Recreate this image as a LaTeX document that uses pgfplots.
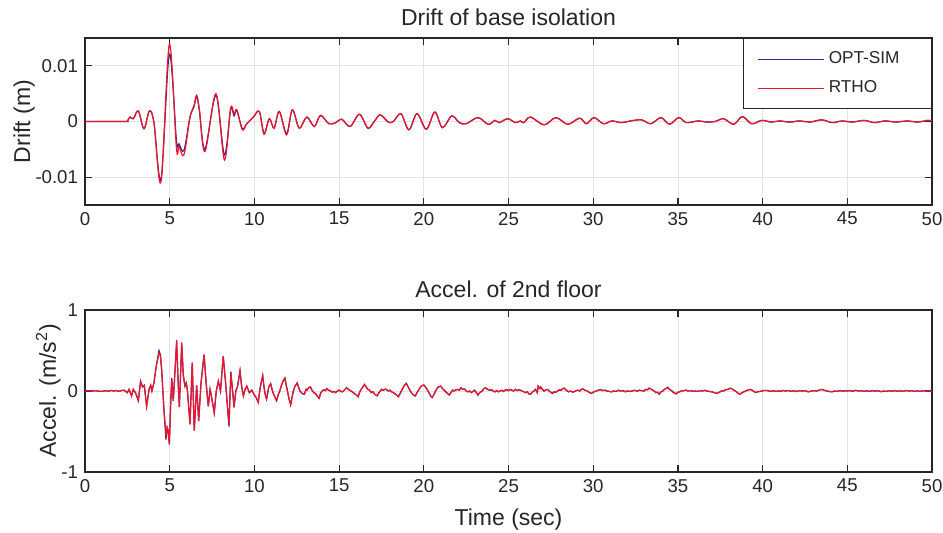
\documentclass[border=0pt]{standalone}
\usepackage{pgfplots}
\pgfplotsset{compat=1.18}
\usepackage{pgfplotstable}
\usepackage{fontspec}
\setmainfont{Liberation Sans}

\definecolor{simblue}{RGB}{40,40,150}
\definecolor{rthored}{RGB}{240,20,40}
\definecolor{axcol}{RGB}{38,38,38}

% drift of base isolation (m)
\pgfplotstableread{
t sim rtho
0 0 0
2.30 0 0
2.50 0.0001 0.0001
2.66 0.0008 0.0008
2.85 0.0005 0.0005
3.15 0.0019 0.0019
3.48 -0.0013 -0.0013
3.80 0.0019 0.0019
4.07 -0.0002 -0.0002
4.49 -0.0103 -0.0108
4.98 0.0121 0.0139
5.40 -0.0035 -0.0048
5.55 -0.0040 -0.0045
5.84 -0.0052 -0.0060
6.20 0.0008 0.0008
6.43 0.0026 0.0028
6.59 0.0045 0.0047
6.75 0.0020 0.0022
7.08 -0.0050 -0.0054
7.73 0.0047 0.0050
8.23 -0.0060 -0.0069
8.60 0.0022 0.0024
8.80 0.0010 0.0013
8.96 0.0020 0.0021
9.29 -0.0013 -0.0015
9.55 -0.0004 -0.0004
9.94 0.0008 0.0008
10.29 0.0018 0.0018
10.57 -0.0021 -0.0023
10.88 0.0005 0.0005
11.16 -0.0012 -0.0012
11.47 0.0018 0.0018
11.90 -0.0022 -0.0024
12.24 0.0021 0.0021
12.65 -0.0012 -0.0012
13.09 0.0008 0.0008
13.54 -0.0009 -0.0009
13.90 0.0011 0.0011
14.40 -0.0004 -0.0004
14.80 -0.0002 -0.0002
15.16 0.0004 0.0004
15.65 -0.0009 -0.0009
16.20 0.0013 0.0013
16.70 -0.0012 -0.0012
17.05 -0.0001 -0.0001
17.42 0.0012 0.0012
17.90 -0.0001 -0.0001
18.20 0.0000 0.0000
18.65 0.0014 0.0014
19.12 -0.0015 -0.0015
19.60 0.0014 0.0014
20.15 -0.0014 -0.0014
20.65 0.0017 0.0017
21.10 -0.0011 -0.0011
21.65 0.0010 0.0010
22.10 -0.0002 -0.0002
22.50 -0.0004 -0.0004
23.20 0.0007 0.0007
23.80 -0.0005 -0.0005
24.20 0.0002 0.0002
24.45 -0.0002 -0.0002
24.95 0.0005 0.0005
25.40 -0.0002 -0.0002
25.70 0.0001 0.0001
25.90 -0.0002 -0.0002
26.30 0.0008 0.0008
27.10 -0.0006 -0.0006
27.80 0.0007 0.0007
28.50 -0.0005 -0.0005
29.20 0.0006 0.0006
29.60 -0.0004 -0.0004
30.05 0.0007 0.0007
30.60 -0.0004 -0.0004
31.10 0.0001 0.0001
31.65 -0.0002 -0.0002
32.20 0.0001 0.0001
32.85 0.0003 0.0003
33.40 -0.0004 -0.0004
34.00 0.0007 0.0007
34.50 -0.0005 -0.0005
35.05 0.0007 0.0007
35.50 -0.0002 -0.0002
36.20 0.0001 0.0001
36.70 -0.0001 -0.0001
37.20 0.0000 0.0000
37.70 0.0005 0.0005
38.30 -0.0005 -0.0005
38.80 0.0009 0.0009
39.35 -0.0004 -0.0004
39.95 0.0002 0.0002
40.50 -0.0001 -0.0001
41.00 0.0001 0.0001
41.60 -0.0001 -0.0001
42.20 0.0001 0.0001
42.80 -0.0001 -0.0001
43.50 0.0003 0.0003
44.10 -0.0002 -0.0002
44.70 0.0001 0.0001
45.30 -0.0001 -0.0001
46.00 0.0002 0.0002
46.60 -0.0002 -0.0002
47.20 0.0001 0.0001
47.90 -0.0001 -0.0001
48.50 0.0001 0.0001
49.20 -0.0001 -0.0001
49.70 0.0002 0.0002
50.00 0.0001 0.0001
}\drifttable

% acceleration of 2nd floor (m/s^2)
\pgfplotstableread{
t sim rtho
0 0 0
0.2 0.004 0.004
0.4 -0.003 -0.003
0.6 0.005 0.005
0.8 -0.002 -0.002
1.0 -0.005 -0.005
1.2 0.004 0.004
1.4 -0.003 -0.003
1.5 0.008 0.008
1.7 0.0 0.0
1.85 0.006 0.006
2.0 -0.004 -0.004
2.15 0.006 0.006
2.3 0.01 0.01
2.4 -0.005 -0.005
2.5 -0.02 -0.02
2.6 0.02 0.02
2.75 -0.06 -0.06
2.85 0.02 0.02
3.0 -0.03 -0.03
3.15 -0.12 -0.12
3.28 0.12 0.12
3.4 0.05 0.05
3.5 0.07 0.07
3.64 -0.19 -0.19
3.78 0.02 0.02
3.88 0.07 0.07
3.95 0.0 0.0
4.07 0.10 0.10
4.2 0.30 0.30
4.37 0.50 0.47
4.45 0.45 0.44
4.53 0.25 0.25
4.65 -0.2 -0.2
4.78 -0.60 -0.55
4.85 -0.45 -0.45
4.90 -0.48 -0.48
4.98 -0.66 -0.65
5.05 -0.2 -0.2
5.12 0.16 0.14
5.21 -0.12 -0.12
5.30 0.2 0.2
5.41 0.60 0.63
5.50 0.1 0.1
5.57 -0.20 -0.20
5.71 0.58 0.60
5.80 0.2 0.2
5.90 0.06 0.06
5.98 0.10 0.10
6.05 0.0 0.0
6.20 -0.41 -0.41
6.33 0.35 0.35
6.45 -0.49 -0.49
6.59 0.07 0.07
6.71 -0.37 -0.37
6.85 0.1 0.1
7.03 0.45 0.45
7.15 0.1 0.1
7.28 -0.19 -0.19
7.38 0.02 0.02
7.45 -0.05 -0.05
7.63 -0.27 -0.27
7.75 0.0 0.0
7.87 0.12 0.12
8.0 0.0 0.0
8.16 0.43 0.43
8.3 0.1 0.1
8.50 -0.44 -0.42
8.61 0.24 0.22
8.80 -0.20 -0.20
8.90 0.0 0.0
9.0 0.05 0.05
9.15 0.25 0.25
9.25 0.05 0.05
9.35 -0.06 -0.06
9.45 0.02 0.02
9.55 0.06 0.06
9.7 -0.02 -0.02
9.85 0.01 0.01
10.0 -0.05 -0.05
10.1 -0.08 -0.08
10.23 -0.14 -0.14
10.3 -0.02 -0.02
10.35 0.05 0.05
10.42 0.12 0.12
10.49 0.19 0.19
10.55 0.08 0.08
10.60 0.0 0.0
10.66 -0.06 -0.06
10.72 -0.10 -0.10
10.78 -0.03 -0.03
10.85 0.05 0.05
10.96 0.09 0.09
11.03 0.03 0.03
11.1 -0.02 -0.02
11.2 -0.07 -0.07
11.31 -0.12 -0.12
11.4 -0.05 -0.05
11.5 0.0 0.0
11.58 0.06 0.06
11.65 0.10 0.10
11.72 0.13 0.13
11.80 0.16 0.16
11.88 0.07 0.07
11.95 0.0 0.0
12.05 -0.10 -0.10
12.14 -0.17 -0.17
12.22 -0.08 -0.08
12.3 0.0 0.0
12.4 0.06 0.06
12.53 0.10 0.10
12.6 0.05 0.05
12.7 0.0 0.0
12.8 -0.03 -0.03
12.95 -0.04 -0.04
13.05 0.02 0.02
13.1 0.01 0.01
13.2 0.04 0.04
13.3 0.05 0.05
13.4 0.01 0.01
13.5 -0.02 -0.02
13.6 -0.03 -0.03
13.7 -0.06 -0.06
13.83 -0.09 -0.09
13.9 -0.03 -0.03
14.0 0.0 0.0
14.1 0.015 0.015
14.2 0.005 0.005
14.27 0.03 0.03
14.38 0.01 0.01
14.5 0.0 0.0
14.6 -0.015 -0.015
14.7 -0.005 -0.005
14.8 -0.02 -0.02
14.9 0.0 0.0
15.0 0.01 0.01
15.1 -0.005 -0.005
15.2 -0.01 -0.01
15.3 0.01 0.01
15.44 0.04 0.04
15.55 0.02 0.02
15.7 0.0 0.0
15.8 -0.015 -0.015
15.9 -0.03 -0.03
16.0 -0.045 -0.045
16.13 -0.07 -0.07
16.2 -0.02 -0.02
16.3 0.02 0.02
16.4 0.05 0.05
16.5 0.08 0.08
16.6 0.05 0.05
16.7 0.02 0.02
16.8 0.01 0.01
16.9 -0.02 -0.02
17.0 -0.01 -0.01
17.1 -0.04 -0.04
17.25 -0.06 -0.06
17.35 -0.02 -0.02
17.5 0.02 0.02
17.6 0.01 0.01
17.75 0.025 0.025
17.9 0.0 0.0
18.0 0.01 0.01
18.1 -0.01 -0.01
18.2 -0.02 -0.02
18.3 -0.035 -0.035
18.4 -0.05 -0.05
18.5 -0.07 -0.07
18.6 -0.03 -0.03
18.75 0.03 0.03
18.85 0.07 0.07
18.97 0.095 0.095
19.1 0.04 0.04
19.2 0.0 0.0
19.3 -0.03 -0.03
19.4 -0.05 -0.05
19.5 -0.06 -0.06
19.6 -0.02 -0.02
19.75 0.03 0.03
19.85 0.06 0.06
20.0 0.075 0.075
20.1 0.05 0.05
20.2 0.02 0.02
20.3 -0.02 -0.02
20.4 -0.06 -0.06
20.5 -0.08 -0.08
20.6 -0.04 -0.04
20.75 0.02 0.02
20.85 0.05 0.05
21.0 0.06 0.06
21.1 0.03 0.03
21.25 0.0 0.0
21.35 -0.02 -0.02
21.5 -0.05 -0.05
21.6 -0.02 -0.02
21.7 0.01 0.01
21.8 0.0 0.0
21.9 0.015 0.015
22.0 0.02 0.02
22.1 0.01 0.01
22.2 0.04 0.04
22.3 0.02 0.02
22.4 0.025 0.025
22.5 0.0 0.0
22.6 -0.01 -0.01
22.7 0.0 0.0
22.8 -0.02 -0.02
22.9 -0.005 -0.005
23.0 0.01 0.01
23.1 -0.02 -0.02
23.2 -0.05 -0.05
23.3 -0.02 -0.02
23.45 0.0 0.0
23.55 0.03 0.03
23.65 0.04 0.04
23.75 0.02 0.02
23.9 0.01 0.01
24.0 0.015 0.015
24.1 0.0 0.0
24.2 -0.01 -0.01
24.3 0.005 0.005
24.4 -0.01 -0.01
24.5 0.0 0.0
24.6 0.01 0.01
24.7 -0.005 -0.005
24.8 0.01 0.01
24.9 0.015 0.015
25.0 0.005 0.005
25.1 0.02 0.02
25.2 0.01 0.01
25.3 0.0 0.0
25.4 0.02 0.02
25.5 0.005 0.005
25.6 0.015 0.015
25.7 0.01 0.01
25.8 0.0 0.0
25.9 -0.01 -0.01
26.0 -0.02 -0.02
26.1 -0.01 -0.01
26.2 -0.035 -0.035
26.3 -0.04 -0.04
26.4 -0.015 -0.015
26.5 0.0 0.0
26.6 0.02 0.02
26.7 -0.02 -0.02
26.75 0.06 0.06
26.85 0.03 0.03
26.9 0.05 0.05
27.0 0.02 0.02
27.1 0.0 0.0
27.2 0.015 0.015
27.3 0.02 0.02
27.4 0.0 0.0
27.5 -0.015 -0.015
27.6 -0.03 -0.03
27.7 -0.01 -0.01
27.8 -0.015 -0.015
27.9 0.0 0.0
28.0 0.015 0.015
28.1 0.01 0.01
28.2 0.03 0.03
28.3 0.035 0.035
28.4 0.01 0.01
28.55 -0.01 -0.01
28.65 0.0 0.0
28.8 -0.015 -0.015
28.9 -0.005 -0.005
29.0 0.005 0.005
29.1 0.01 0.01
29.2 0.0 0.0
29.3 0.02 0.02
29.4 0.025 0.025
29.5 0.01 0.01
29.65 0.0 0.0
29.75 -0.015 -0.015
29.9 -0.03 -0.03
30.0 -0.015 -0.015
30.1 -0.005 -0.005
30.2 0.0 0.0
30.3 0.01 0.01
30.45 0.018 0.018
30.55 0.005 0.005
30.7 0.01 0.01
30.8 0.0 0.0
30.95 -0.005 -0.005
31.1 -0.01 -0.01
31.2 0.0 0.0
31.35 -0.005 -0.005
31.5 0.01 0.01
31.6 0.0 0.0
31.75 0.005 0.005
31.9 -0.01 -0.01
32.0 0.0 0.0
32.15 -0.005 -0.005
32.3 0.0 0.0
32.45 0.01 0.01
32.6 -0.005 -0.005
32.7 0.01 0.01
32.85 0.005 0.005
33.0 0.0 0.0
33.1 0.02 0.02
33.2 0.015 0.015
33.3 0.035 0.035
33.45 0.02 0.02
33.6 0.0 0.0
33.7 -0.02 -0.02
33.8 -0.015 -0.015
33.9 -0.04 -0.04
34.0 -0.01 -0.01
34.1 0.0 0.0
34.2 0.02 0.02
34.3 0.03 0.03
34.4 0.045 0.045
34.5 0.02 0.02
34.65 0.0 0.0
34.75 -0.02 -0.02
34.9 -0.035 -0.035
35.0 -0.015 -0.015
35.1 -0.01 -0.01
35.2 0.0 0.0
35.35 0.005 0.005
35.5 0.01 0.01
35.6 0.0 0.0
35.75 0.005 0.005
35.9 -0.005 -0.005
36.0 0.0 0.0
36.15 -0.005 -0.005
36.3 0.005 0.005
36.45 0.0 0.0
36.6 0.008 0.008
36.7 0.0 0.0
36.85 -0.005 -0.005
37.0 -0.01 -0.01
37.15 -0.02 -0.02
37.3 -0.03 -0.03
37.45 -0.015 -0.015
37.6 0.005 0.005
37.7 0.0 0.0
37.8 0.015 0.015
37.95 0.02 0.02
38.1 0.035 0.035
38.2 0.025 0.025
38.3 0.01 0.01
38.4 0.0 0.0
38.5 -0.02 -0.02
38.65 -0.04 -0.04
38.75 -0.025 -0.025
38.9 -0.01 -0.01
39.0 0.0 0.0
39.1 0.01 0.01
39.2 0.015 0.015
39.3 0.02 0.02
39.45 0.0 0.0
39.6 -0.02 -0.02
39.7 -0.01 -0.01
39.85 -0.005 -0.005
39.95 0.0 0.0
40.1 0.008 0.008
40.3 0.005 0.005
40.45 -0.005 -0.005
40.6 0.003 0.003
40.8 -0.005 -0.005
40.95 0.002 0.002
41.1 -0.004 -0.004
41.2 0.008 0.008
41.35 0.0 0.0
41.5 0.006 0.006
41.7 -0.003 -0.003
41.85 0.004 0.004
42.0 -0.006 -0.006
42.2 0.005 0.005
42.35 0.0 0.0
42.5 0.004 0.004
42.7 -0.01 -0.01
42.85 -0.002 -0.002
43.0 0.004 0.004
43.2 0.0 0.0
43.35 0.012 0.012
43.5 0.02 0.02
43.65 0.008 0.008
43.8 0.0 0.0
43.95 -0.006 -0.006
44.1 -0.01 -0.01
44.25 0.0 0.0
44.4 -0.004 -0.004
44.6 0.005 0.005
44.75 -0.003 -0.003
44.9 0.004 0.004
45.0 0.0 0.0
45.15 0.006 0.006
45.3 -0.003 -0.003
45.5 0.008 0.008
45.65 0.0 0.0
45.8 0.004 0.004
46.0 -0.005 -0.005
46.15 0.003 0.003
46.3 -0.004 -0.004
46.5 0.005 0.005
46.65 -0.002 -0.002
46.8 0.004 0.004
47.0 -0.008 -0.008
47.15 0.0 0.0
47.3 -0.004 -0.004
47.5 0.004 0.004
47.65 -0.003 -0.003
47.8 0.005 0.005
48.0 -0.004 -0.004
48.15 0.003 0.003
48.3 -0.003 -0.003
48.5 0.006 0.006
48.65 0.0 0.0
48.8 0.004 0.004
49.0 -0.005 -0.005
49.15 0.002 0.002
49.3 -0.004 -0.004
49.5 0.004 0.004
49.65 -0.002 -0.002
49.8 0.003 0.003
50.0 -0.01 -0.01
}\acctable

\pgfplotsset{
  matlab/.style={
    scale only axis,
    width=423.5pt,
    anchor=north west,
    xmin=0, xmax=50,
    xtick={0,5,...,50},
    tick pos=both,
    tick align=inside,
    major tick length=3.5pt,
    axis line style={axcol, line width=0.6pt},
    every tick/.style={axcol, line width=0.6pt},
    grid=major,
    major grid style={gray!22, line width=0.4pt},
    /pgf/number format/assume math mode=true,
    tick label style={font=\fontsize{9.3}{11}\selectfont, text=axcol},
    label style={font=\fontsize{11.5}{13}\selectfont, text=axcol},
    title style={font=\fontsize{11.5}{13}\selectfont, text=axcol, yshift=-3.5pt},
    ylabel shift=-6.5pt,
    scaled y ticks=false,
    clip=true,
  },
}

\begin{document}
\begin{tikzpicture}
\useasboundingbox (0,0) rectangle (471.5pt,-266pt);

\begin{axis}[matlab,
  at={(42.5pt,-19pt)}, height=83.5pt,
  ymin=-0.015, ymax=0.015,
  ytick={-0.01,0,0.01},
  yticklabels={-0.01,0,0.01},
  title={Drift of base isolation},
  ylabel={Drift (m)},
  legend style={at={(1,1)}, anchor=north east, draw=axcol, line width=0.5pt,
    font=\fontsize{8.6}{10}\selectfont, text=axcol, cells={anchor=west},
    inner xsep=7pt, inner ysep=4.5pt, row sep=3pt},
  legend image code/.code={\draw[#1, line width=0.5pt] (0pt,0pt) -- (33pt,0pt);},
]
\addplot[simblue, line width=0.6pt, smooth, tension=0.55] table[x=t, y=sim] {\drifttable};
\addlegendentry{OPT-SIM\hspace*{7pt}}
\addplot[rthored, line width=0.6pt, smooth, tension=0.55] table[x=t, y=rtho] {\drifttable};
\addlegendentry{RTHO}
\end{axis}

\begin{axis}[matlab,
  at={(42.5pt,-155pt)}, height=81pt,
  ymin=-1, ymax=1,
  ytick={-1,0,1},
  yticklabels={-1,0,1},
  title={Accel. of 2nd floor},
  ylabel={Accel. (m/s\textsuperscript{2})},
  xlabel={Time (sec)},
  xlabel style={yshift=-1.5pt},
]
\addplot[simblue, line width=0.6pt] table[x=t, y=sim] {\acctable};
\addplot[rthored, line width=0.6pt] table[x=t, y=rtho] {\acctable};
\end{axis}
\end{tikzpicture}
\end{document}
